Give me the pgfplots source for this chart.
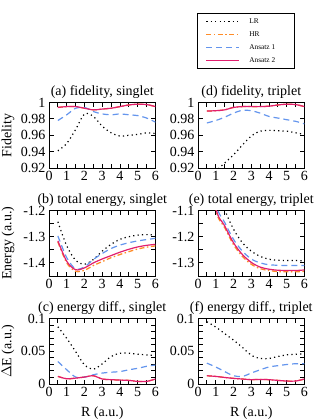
\documentclass[border=0pt]{standalone}
\usepackage{fontspec}
\setmainfont{Liberation Serif}
\usepackage{pgfplots}
\pgfplotsset{compat=1.18}
\definecolor{hrc}{RGB}{255,140,40}
\definecolor{aonec}{RGB}{100,149,237}
\definecolor{atwoc}{RGB}{225,30,110}
\pgfplotsset{
 panel/.style={scale only axis, width=106.5pt, height=65.5pt, anchor=south west,
  xmin=0,xmax=6, xtick={0,...,6}, minor xtick={0.5,1.5,2.5,3.5,4.5,5.5},
  tick align=inside, major tick length=4.5pt, minor tick length=4.5pt,
  axis line style={line width=1pt},
  every tick/.style={line width=0.9pt, black},
  tick label style={font=\fontsize{14}{16}\selectfont},
  /pgf/number format/assume math mode=true,
  scaled ticks=false,
  title style={font=\fontsize{14}{16}\selectfont, yshift=-5.5pt},
  label style={font=\fontsize{14}{16}\selectfont},
  ylabel style={at={(axis description cs:-0.385,0.5)}, anchor=center},
  xlabel style={at={(axis description cs:0.5,-0.44)}, anchor=center},
 },
 fid/.style={ymin=0.92,ymax=1, ytick={0.92,0.94,0.96,0.98,1}, yticklabels={0.92,0.94,0.96,0.98,1}},
 ensing/.style={ymin=-1.45,ymax=-1.2, ytick={-1.4,-1.3,-1.2}, yticklabels={-1.4,-1.3,-1.2}, minor ytick={-1.45,-1.35,-1.25}},
 entrip/.style={ymin=-1.35,ymax=-1.1, ytick={-1.3,-1.2,-1.1}, yticklabels={-1.3,-1.2,-1.1}, minor ytick={-1.35,-1.25,-1.15}},
 ediff/.style={ymin=0,ymax=0.1, ytick={0,0.05,0.1}, yticklabels={0,0.05,0.1}, minor ytick={0.01,0.02,0.03,0.04,0.06,0.07,0.08,0.09}},
 lr/.style={black, line width=1.2pt, dash pattern=on 1.2pt off 3.2pt, smooth},
 hr/.style={hrc, line width=1.3pt, dash pattern=on 5pt off 2.5pt on 1.5pt off 2.5pt, smooth},
 aone/.style={aonec, line width=1.2pt, dash pattern=on 6pt off 4pt, smooth},
 atwo/.style={atwoc, line width=1.2pt, smooth},
}
\begin{document}
\begin{tikzpicture}
\useasboundingbox (0,0) rectangle (325pt,-420pt);
% (a)
\begin{axis}[panel, fid, at={(49pt,-168pt)}, title={(a) fidelity, singlet}, ylabel={Fidelity}]
\addplot[lr] table {
0.5 0.941
1 0.950
1.5 0.967
2 0.986
2.5 0.983
3 0.971
3.5 0.963
4 0.959
4.5 0.960
5 0.961
5.5 0.963
6 0.962
};
\addplot[hr] table {
0.5 0.994
1 0.995
1.5 0.995
2 0.993
2.5 0.991
3 0.992
3.5 0.993
4 0.995
4.5 0.997
5 0.998
5.5 0.9975
6 0.995
};
\addplot[aone] table {
0.5 0.978
1 0.985
1.5 0.993
2 0.994
2.5 0.989
3 0.986
3.5 0.985
4 0.986
4.5 0.985
5 0.984
5.5 0.981
6 0.976
};
\addplot[atwo] table {
0.5 0.994
1 0.995
1.5 0.995
2 0.993
2.5 0.991
3 0.992
3.5 0.993
4 0.995
4.5 0.997
5 0.998
5.5 0.9975
6 0.995
};
\end{axis}
% (d)
\begin{axis}[panel, fid, at={(198pt,-168pt)}, title={(d) fidelity, triplet},
  legend style={at={(axis description cs:-0.007,1.511)}, anchor=south west,
    font=\fontsize{7.3}{8}\selectfont, draw=black, line width=0.8pt,
    inner xsep=8pt, inner ysep=3pt, row sep=2.6pt, column sep=7.5pt,
    nodes={inner sep=2pt}},
  legend cell align=left,
  legend image code/.code={\draw[#1] (0pt,0pt) -- (33pt,0pt);},
  ]
\addplot[lr] table {
0.5 0.89
1 0.915
1.5 0.926
2 0.936
2.5 0.948
3 0.959
3.5 0.965
4 0.966
4.5 0.9655
5 0.965
5.5 0.963
6 0.961
};
\addlegendentry{\makebox[35pt][l]{LR}}
\addplot[hr] table {
0.5 0.9895
1 0.990
1.5 0.991
2 0.994
2.5 0.995
3 0.995
3.5 0.995
4 0.9955
4.5 0.997
5 0.998
5.5 0.9975
6 0.995
};
\addlegendentry{\makebox[35pt][l]{HR}}
\addplot[aone] table {
0.5 0.975
1 0.978
1.5 0.982
2 0.987
2.5 0.9905
3 0.990
3.5 0.987
4 0.983
4.5 0.981
5 0.979
5.5 0.977
6 0.974
};
\addlegendentry{\makebox[35pt][l]{Ansatz 1}}
\addplot[atwo] table {
0.5 0.9895
1 0.990
1.5 0.991
2 0.994
2.5 0.995
3 0.995
3.5 0.995
4 0.9955
4.5 0.997
5 0.998
5.5 0.9975
6 0.995
};
\addlegendentry{\makebox[35pt][l]{Ansatz 2}}
\end{axis}
% (b)
\begin{axis}[panel, ensing, at={(49pt,-276pt)}, title={(b) total energy, singlet}, ylabel={Energy (a.u.)}]
\addplot[lr] table {
0.5 -1.243
1 -1.335
1.5 -1.390
2 -1.405
2.5 -1.387
3 -1.355
3.5 -1.329
4 -1.310
4.5 -1.300
5 -1.294
5.5 -1.292
6 -1.294
};
\addplot[hr] table {
0.5 -1.320
1 -1.400
1.5 -1.432
2 -1.428
2.5 -1.410
3 -1.395
3.5 -1.380
4 -1.368
4.5 -1.357
5 -1.347
5.5 -1.340
6 -1.335
};
\addplot[aone] table {
0.5 -1.297
1 -1.380
1.5 -1.423
2 -1.415
2.5 -1.387
3 -1.364
3.5 -1.345
4 -1.332
4.5 -1.323
5 -1.316
5.5 -1.311
6 -1.306
};
\addplot[atwo] table {
0.5 -1.316
1 -1.394
1.5 -1.426
2 -1.419
2.5 -1.400
3 -1.385
3.5 -1.372
4 -1.359
4.5 -1.348
5 -1.339
5.5 -1.333
6 -1.329
};
\end{axis}
% (e)
\begin{axis}[panel, entrip, at={(198pt,-276pt)}, title={(e) total energy, triplet}]
\addplot[lr] table {
0.5 -0.70
1 -0.98
1.5 -1.095
2 -1.171
2.5 -1.223
3 -1.255
3.5 -1.275
4 -1.286
4.5 -1.290
5 -1.291
5.5 -1.291
6 -1.292
};
\addplot[hr] table {
0.5 -0.82
1 -1.095
1.5 -1.165
2 -1.230
2.5 -1.275
3 -1.305
3.5 -1.322
4 -1.329
4.5 -1.333
5 -1.334
5.5 -1.334
6 -1.332
};
\addplot[aone] table {
0.5 -0.80
1 -1.070
1.5 -1.145
2 -1.210
2.5 -1.255
3 -1.285
3.5 -1.300
4 -1.307
4.5 -1.309
5 -1.310
5.5 -1.310
6 -1.310
};
\addplot[atwo] table {
0.5 -0.81
1 -1.088
1.5 -1.158
2 -1.223
2.5 -1.268
3 -1.298
3.5 -1.316
4 -1.324
4.5 -1.328
5 -1.329
5.5 -1.329
6 -1.327
};
\end{axis}
% (c)
\begin{axis}[panel, ediff, at={(49pt,-384pt)}, title={(c) energy diff., singlet}, ylabel={$\Delta$E (a.u.)}, xlabel={R (a.u.)}]
\addplot[lr] table {
0.5 0.0874
1 0.0697
1.5 0.0495
2 0.0293
2.5 0.0227
3 0.0308
3.5 0.0419
4 0.0470
4.5 0.0470
5 0.0455
5.5 0.0444
6 0.0434
};
\addplot[hr] table {
0.5 0.0116
1 0.0080
1.5 0.0090
2 0.0106
2.5 0.0126
3 0.0076
3.5 0.0066
4 0.0060
4.5 0.0055
5 0.0040
5.5 0.0040
6 0.0076
};
\addplot[aone] table {
0.5 0.0343
1 0.0217
1.5 0.0106
2 0.0106
2.5 0.0141
3 0.0167
3.5 0.0180
4 0.0190
4.5 0.0217
5 0.0240
5.5 0.0270
6 0.0290
};
\addplot[atwo] table {
0.5 0.0116
1 0.0080
1.5 0.0090
2 0.0106
2.5 0.0126
3 0.0076
3.5 0.0066
4 0.0060
4.5 0.0055
5 0.0040
5.5 0.0040
6 0.0076
};
\end{axis}
% (f)
\begin{axis}[panel, ediff, at={(198pt,-384pt)}, title={(f) energy diff., triplet}, xlabel={R (a.u.)}]
\addplot[lr] table {
0.5 0.095
1 0.087
1.5 0.077
2 0.067
2.5 0.056
3 0.044
3.5 0.039
4 0.039
4.5 0.042
5 0.0445
5.5 0.0455
6 0.046
};
\addplot[hr] table {
0.5 0.0126
1 0.0116
1.5 0.0100
2 0.0086
2.5 0.0076
3 0.0066
3.5 0.0070
4 0.0066
4.5 0.0055
5 0.0045
5.5 0.0045
6 0.0076
};
\addplot[aone] table {
0.5 0.0318
1 0.0260
1.5 0.0190
2 0.0126
2.5 0.0116
3 0.0167
3.5 0.0217
4 0.0260
4.5 0.0280
5 0.0298
5.5 0.0310
6 0.0310
};
\addplot[atwo] table {
0.5 0.0126
1 0.0116
1.5 0.0100
2 0.0086
2.5 0.0076
3 0.0066
3.5 0.0070
4 0.0066
4.5 0.0055
5 0.0045
5.5 0.0045
6 0.0076
};
\end{axis}
\end{tikzpicture}
\end{document}
